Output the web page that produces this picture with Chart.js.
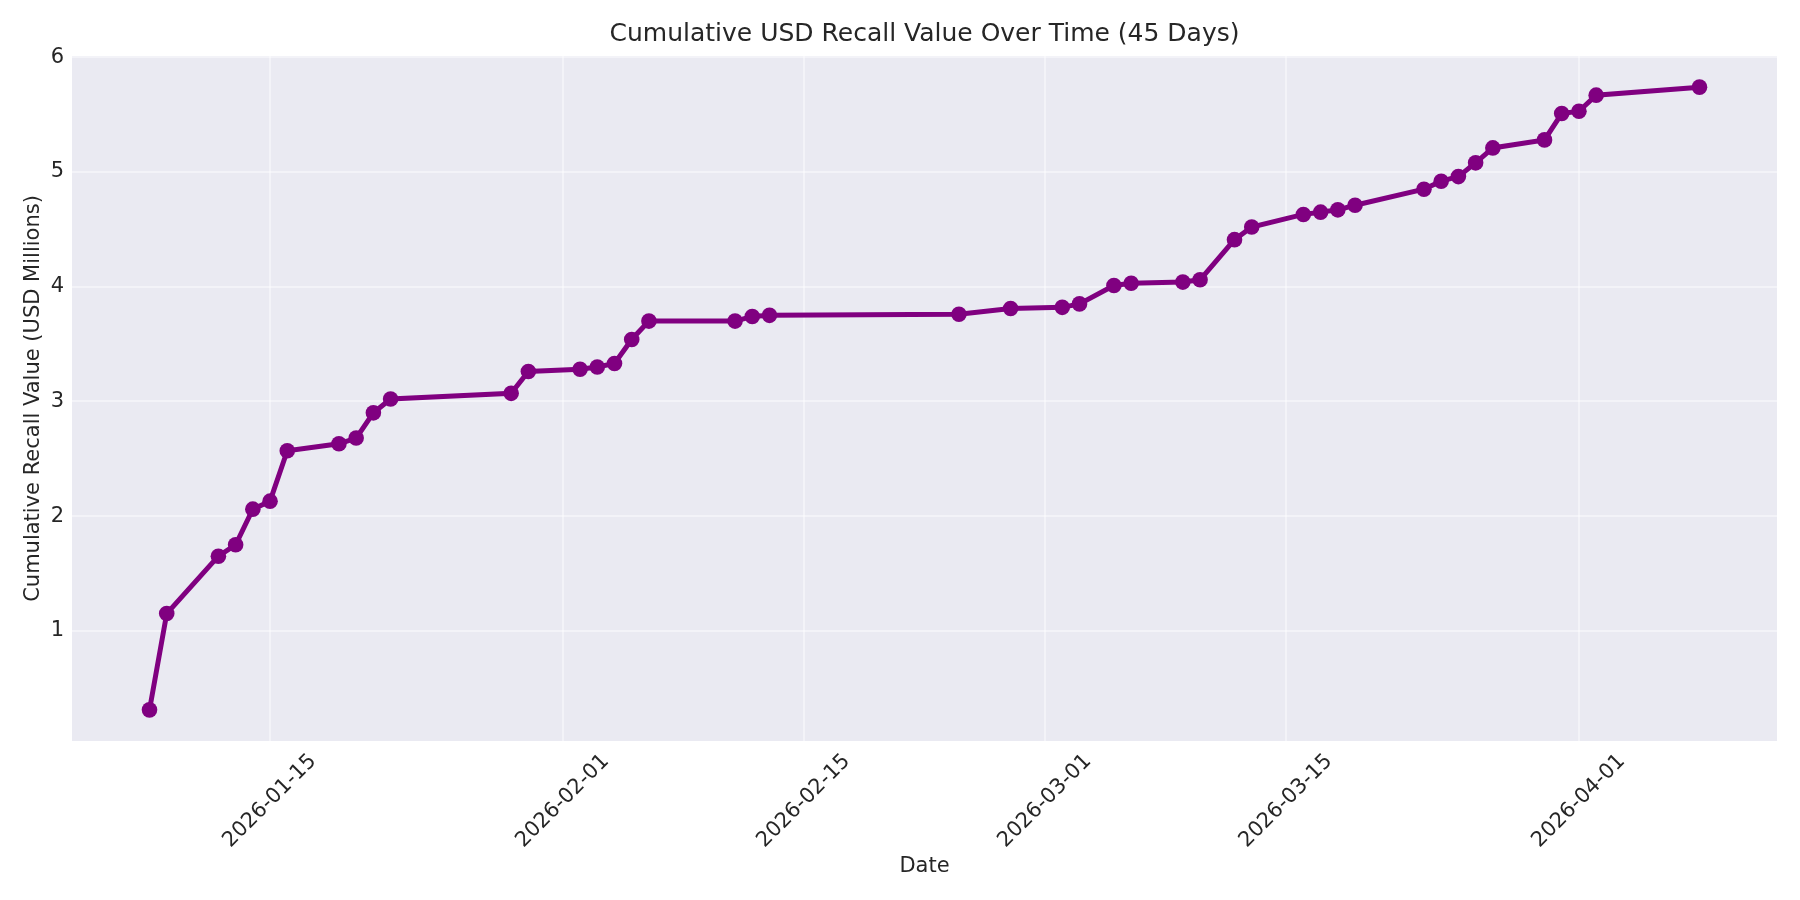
<!DOCTYPE html>
<html>
<head>
<meta charset="utf-8">
<title>Cumulative USD Recall Value Over Time</title>
<script src="https://cdn.jsdelivr.net/npm/chart.js@4.4.1/dist/chart.umd.min.js"></script>
<style>
  html, body { margin: 0; padding: 0; background: #ffffff; }
  #wrap { width: 1800px; height: 900px; }
</style>
</head>
<body>
<div id="wrap"><canvas id="recallChart"></canvas></div>
<script>
// --- data ---
const dates = [
  '2026-01-08', '2026-01-09', '2026-01-12', '2026-01-13', '2026-01-14', '2026-01-15',
  '2026-01-16', '2026-01-19', '2026-01-20', '2026-01-21', '2026-01-22', '2026-01-29',
  '2026-01-30', '2026-02-02', '2026-02-03', '2026-02-04', '2026-02-05', '2026-02-06',
  '2026-02-11', '2026-02-12', '2026-02-13', '2026-02-24', '2026-02-27', '2026-03-02',
  '2026-03-03', '2026-03-05', '2026-03-06', '2026-03-09', '2026-03-10', '2026-03-12',
  '2026-03-13', '2026-03-16', '2026-03-17', '2026-03-18', '2026-03-19', '2026-03-23',
  '2026-03-24', '2026-03-25', '2026-03-26', '2026-03-27', '2026-03-30', '2026-03-31',
  '2026-04-01', '2026-04-02', '2026-04-08'
];

const cumulativeValues = [
  0.31, 1.15, 1.65, 1.75, 2.06, 2.13,
  2.57, 2.63, 2.68, 2.90, 3.02, 3.07,
  3.26, 3.28, 3.30, 3.33, 3.54, 3.70,
  3.70, 3.74, 3.75, 3.76, 3.81, 3.82,
  3.85, 4.01, 4.03, 4.04, 4.06, 4.41,
  4.52, 4.63, 4.65, 4.67, 4.71, 4.85,
  4.92, 4.96, 5.08, 5.21, 5.28, 5.51,
  5.53, 5.67, 5.74
];

const xTickDates = ['2026-01-15', '2026-02-01', '2026-02-15', '2026-03-01', '2026-03-15', '2026-04-01'];
const yTickValues = [1, 2, 3, 4, 5, 6];

// --- helpers ---
const toMs = s => Date.parse(s + 'T00:00:00Z');
const fmtDate = v => new Date(v).toISOString().slice(0, 10);

const xs = dates.map(toMs);
const xSpan = xs[xs.length - 1] - xs[0];
const yMinData = Math.min(...cumulativeValues);
const yMaxData = Math.max(...cumulativeValues);
const ySpan = yMaxData - yMinData;

const TEXT = '#262626';
const FONT = "'DejaVu Sans', sans-serif";

// seaborn 風の背景を描く
const plotBackground = {
  id: 'plotBackground',
  beforeDraw(chart) {
    const { ctx, chartArea: a } = chart;
    ctx.save();
    ctx.fillStyle = '#eaeaf2';
    ctx.fillRect(a.left, a.top, a.right - a.left, a.bottom - a.top);
    ctx.restore();
  }
};

new Chart(document.getElementById('recallChart'), {
  type: 'line',
  data: {
    datasets: [{
      label: 'Cumulative Recall Value',
      data: xs.map((x, i) => ({ x: x, y: cumulativeValues[i] })),
      borderColor: '#800080',
      backgroundColor: '#800080',
      borderWidth: 5,
      pointRadius: 7.8,
      pointHoverRadius: 7.8,
      pointBorderWidth: 0,
      pointBackgroundColor: '#800080',
      fill: false,
      tension: 0
    }]
  },
  options: {
    responsive: true,
    maintainAspectRatio: false,
    devicePixelRatio: 1,
    animation: false,
    layout: { padding: { top: 0, right: 23, bottom: 0, left: 0 } },
    plugins: {
      legend: { display: false },
      tooltip: { enabled: false },
      title: {
        display: true,
        fullSize: false, // プロット領域の中央に揃える
        text: 'Cumulative USD Recall Value Over Time (45 Days)',
        color: TEXT,
        font: { family: FONT, size: 25, weight: 'normal' },
        padding: { top: 19, bottom: 7 }
      }
    },
    scales: {
      x: {
        type: 'linear',
        min: xs[0] - xSpan * 0.05,
        max: xs[xs.length - 1] + xSpan * 0.05,
        afterBuildTicks: axis => { axis.ticks = xTickDates.map(d => ({ value: toMs(d) })); },
        afterFit: axis => { axis.height = 159; },
        ticks: {
          autoSkip: false,
          maxRotation: 45,
          minRotation: 45,
          padding: 8,
          labelOffset: 43,
          color: TEXT,
          font: { family: FONT, size: 21 },
          callback: v => fmtDate(v)
        },
        grid: { color: 'rgba(255,255,255,0.45)', lineWidth: 2, drawTicks: false },
        border: { display: false },
        title: {
          display: true,
          text: 'Date',
          color: TEXT,
          font: { family: FONT, size: 21 },
          padding: { top: 0, bottom: 21 }
        }
      },
      y: {
        min: yMinData - ySpan * 0.05,
        max: yMaxData + ySpan * 0.05,
        afterBuildTicks: axis => { axis.ticks = yTickValues.map(v => ({ value: v })); },
        afterFit: axis => { axis.width = 72; },
        ticks: {
          padding: 8,
          color: TEXT,
          font: { family: FONT, size: 21 },
          callback: v => String(v)
        },
        grid: { color: 'rgba(255,255,255,0.45)', lineWidth: 2, drawTicks: false },
        border: { display: false },
        title: {
          display: true,
          text: 'Cumulative Recall Value (USD Millions)',
          color: TEXT,
          font: { family: FONT, size: 21 },
          padding: { top: 21, bottom: 0 }
        }
      }
    }
  },
  plugins: [plotBackground]
});
</script>
</body>
</html>
